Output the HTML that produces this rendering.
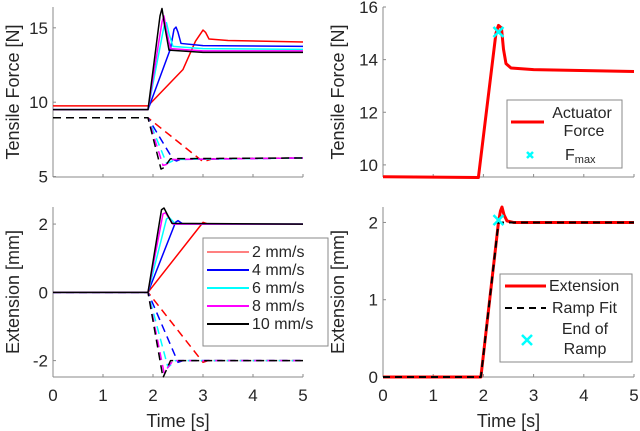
<!DOCTYPE html>
<html><head><meta charset="utf-8"><style>
body{margin:0;background:#fff}
svg{display:block;font-family:"Liberation Sans",sans-serif}
</style></head><body>
<svg id="c" width="640" height="431" viewBox="0 0 640 431"></svg>
<script>
// ---- data ----
const speeds = ['2 mm/s','4 mm/s','6 mm/s','8 mm/s','10 mm/s'];
const colors = ['#ff0000','#0000ff','#00ffff','#ff00ff','#000000'];
const forceSolid = [
 [[0,9.75],[1.9,9.75],[2.6,12.2],[2.85,14.1],[2.95,14.6],[3.0,14.85],[3.05,14.7],[3.12,14.25],[3.5,14.15],[5,14.05]],
 [[0,9.5],[1.9,9.5],[2.35,13.6],[2.42,14.9],[2.46,15.05],[2.5,14.7],[2.56,13.95],[3,13.8],[5,13.75]],
 [[0,9.5],[1.9,9.5],[2.22,15.1],[2.27,15.35],[2.32,14.6],[2.4,13.75],[3,13.6],[5,13.55]],
 [[0,9.5],[1.9,9.5],[2.18,15.4],[2.22,15.8],[2.27,14.8],[2.35,13.6],[3,13.45],[5,13.45]],
 [[0,9.5],[1.9,9.5],[2.14,15.8],[2.18,16.3],[2.23,15.2],[2.32,13.5],[3,13.35],[5,13.35]]
];
const forceDashed = [
 [[0,8.95],[1.9,8.95],[3.0,6.0],[3.2,6.2],[5,6.25]],
 [[0,8.95],[1.9,8.95],[2.4,6.15],[2.47,6.05],[2.55,6.15],[5,6.25]],
 [[0,8.95],[1.9,8.95],[2.27,5.9],[2.33,5.95],[2.45,6.15],[5,6.25]],
 [[0,8.95],[1.9,8.95],[2.2,5.75],[2.26,5.8],[2.38,6.15],[5,6.25]],
 [[0,8.95],[1.9,8.95],[2.16,5.5],[2.22,5.6],[2.35,6.2],[5,6.25]]
];
const extSolid = [
 [[0,0],[1.9,0],[3.0,2.05],[3.1,2.0],[5,2.0]],
 [[0,0],[1.9,0],[2.45,2.05],[2.5,2.1],[2.6,2.0],[5,2.0]],
 [[0,0],[1.9,0],[2.27,2.15],[2.32,2.2],[2.45,2.0],[5,2.0]],
 [[0,0],[1.9,0],[2.2,2.3],[2.25,2.33],[2.4,2.0],[5,2.0]],
 [[0,0],[1.9,0],[2.17,2.42],[2.22,2.47],[2.28,2.3],[2.38,2.02],[5,2.0]]
];
const extDashed = [
 [[0,0],[1.9,0],[3.0,-2.05],[3.1,-2.0],[5,-2.0]],
 [[0,0],[1.9,0],[2.5,-2.05],[2.6,-2.0],[5,-2.0]],
 [[0,0],[1.9,0],[2.3,-2.2],[2.45,-2.0],[5,-2.0]],
 [[0,0],[1.9,0],[2.22,-2.35],[2.4,-2.0],[5,-2.0]],
 [[0,0],[1.9,0],[2.2,-2.5],[2.35,-2.0],[5,-2.0]]
];
const actForce = [[0,9.55],[1.9,9.52],[2.25,15.0],[2.3,15.3],[2.36,15.2],[2.4,14.4],[2.45,13.85],[2.55,13.68],[3,13.62],[5,13.55]];
const fmax = [2.3,15.05];
const extension = [[0,0],[1.95,0],[2.3,2.0],[2.34,2.15],[2.37,2.2],[2.41,2.1],[2.47,2.02],[2.6,2.0],[5,2.0]];
const rampFit = [[0,0],[1.95,0],[2.3,2.0],[5,2.0]];
const rampEnd = [2.3,2.03];
const xTicks = [0,1,2,3,4,5];
const ticksTL = [5,10,15], ticksBL = [-2,0,2], ticksTR = [10,12,14,16], ticksBR = [0,1,2];

const svg = document.getElementById('c');
const NS='http://www.w3.org/2000/svg';
function mk(tag, attrs, parent){const e=document.createElementNS(NS,tag);for(const k in attrs)e.setAttribute(k,attrs[k]);(parent||svg).appendChild(e);return e;}

function axes(name, x0,x1,y0,y1,ymin,ymax,yt,showX,ylabel,ylabX){
  const g=mk('g',{});
  
  
  const sx=v=>x0+(v/5)*(x1-x0);
  const sy=v=>y1-(v-ymin)/(ymax-ymin)*(y1-y0);
  mk('line',{x1:x0,y1:y0,x2:x0,y2:y1,stroke:'#8a8a8a','stroke-width':1},g);
  mk('line',{x1:x0,y1:y1,x2:x1,y2:y1,stroke:'#8a8a8a','stroke-width':1},g);
  yt.forEach(v=>{
    mk('line',{x1:x0,y1:sy(v),x2:x0+3,y2:sy(v),stroke:'#8a8a8a'},g);
    const t=mk('text',{x:x0-5,y:sy(v)+6,'text-anchor':'end','font-size':17,fill:'#262626'},g);
    t.textContent=v;
    
    
  });
  xTicks.forEach(v=>{
    mk('line',{x1:sx(v),y1:y1,x2:sx(v),y2:y1-3,stroke:'#8a8a8a'},g);
    if(showX){const t=mk('text',{x:sx(v),y:y1+24,'text-anchor':'middle','font-size':17,fill:'#262626'},g);t.textContent=v;
      
      }
  });
  if(showX){const t=mk('text',{x:(x0+x1)/2,y:y1+50,'text-anchor':'middle','font-size':18,fill:'#262626'},g);t.textContent='Time [s]';
    
    }
  const cy=(y0+y1)/2;
  const yl=mk('text',{x:ylabX,y:cy,'text-anchor':'middle','font-size':18,fill:'#262626',transform:`rotate(-90 ${ylabX} ${cy})`},g);
  yl.textContent=ylabel;
  
  
  return {sx,sy,g};
}
function line(ax,pts,color,w,dash,name){
  const p=mk('polyline',{points:pts.map(q=>ax.sx(q[0])+','+ax.sy(q[1])).join(' '),fill:'none',stroke:color,'stroke-width':w,'stroke-linejoin':'round'},ax.g);
  if(dash)p.setAttribute('stroke-dasharray',dash);
  
  
}
function cross(ax,pt,name){
  const x=ax.sx(pt[0]),y=ax.sy(pt[1]);
  const p=mk('path',{d:`M${x-5},${y-5}L${x+5},${y+5}M${x-5},${y+5}L${x+5},${y-5}`,stroke:'#00ffff','stroke-width':2.5},ax.g);
  
  
}

const TL=axes('force-speed-axes',53,303,7,177,4.97,16.4,ticksTL,false,'Tensile Force [N]',19);
const BL=axes('extension-speed-axes',53,303,207,377,-2.48,2.5,ticksBL,true,'Extension [mm]',19);
const TR=axes('actuator-force-axes',383,634,7,177,9.54,16,ticksTR,false,'Tensile Force [N]',344);
const BR=axes('ramp-extension-axes',383,634,207,377,0,2.2,ticksBR,true,'Extension [mm]',344);

for(let i=0;i<5;i++){
  line(TL,forceDashed[i],colors[i],1.5,'8,5','force-dashed-'+(i+1));
  line(BL,extDashed[i],colors[i],1.5,'8,5','extension-dashed-'+(i+1));
}
for(let i=0;i<5;i++){
  line(TL,forceSolid[i],colors[i],1.5,null,'force-'+speeds[i].replace(/[ \/]/g,''));
  line(BL,extSolid[i],colors[i],1.5,null,'extension-'+speeds[i].replace(/[ \/]/g,''));
}
line(TR,actForce,'#ff0000',3,null,'actuator-force-line');
cross(TR,fmax,'fmax-marker');
line(BR,extension,'#ff0000',3,null,'extension-line');
line(BR,rampFit,'#000000',2,'7,5','ramp-fit-line');
cross(BR,rampEnd,'ramp-end-marker');

// legends
function legendBox(x,y,w,h,name){const r=mk('rect',{x,y,width:w,height:h,fill:'#fff',stroke:'#8a8a8a'});
  }
function ltext(x,y,s,name,anchor){const t=mk('text',{x,y,'font-size':16,fill:'#262626','text-anchor':anchor||'start'});t.textContent=s;
  return t;}
legendBox(203,238,125,108,'speed-legend');
speeds.forEach((s,i)=>{
  const y=252+i*18;
  const l=mk('line',{x1:207,y1:y,x2:249,y2:y,stroke:colors[i],'stroke-width':i==0?1:2});
  
  
  ltext(252,y+5,s,'legend-entry');
});
legendBox(507,100,115,68,'force-legend');
mk('line',{x1:511,y1:122,x2:544,y2:122,stroke:'#ff0000','stroke-width':3});
ltext(582,118,'Actuator','legend-entry','middle');
ltext(584,136,'Force','legend-entry','middle');
mk('path',{d:'M527,152L533,158M527,158L533,152',stroke:'#00ffff','stroke-width':2.5});
const fm=ltext(565,160,'F','legend-entry');
const sub=mk('tspan',{'font-size':11,dy:3},fm);sub.textContent='max';
legendBox(500,274,132,88,'extension-legend');
mk('line',{x1:505,y1:286,x2:546,y2:286,stroke:'#ff0000','stroke-width':3});
ltext(549,291,'Extension','legend-entry');
mk('line',{x1:505,y1:308,x2:546,y2:308,stroke:'#000','stroke-width':2,'stroke-dasharray':'7,5'});
ltext(552,313,'Ramp Fit','legend-entry');
mk('path',{d:'M522,335L532,345M522,345L532,335',stroke:'#00ffff','stroke-width':2.5});
ltext(585,334,'End of','legend-entry','middle');
ltext(585,354,'Ramp','legend-entry','middle');
</script>
</body></html>
